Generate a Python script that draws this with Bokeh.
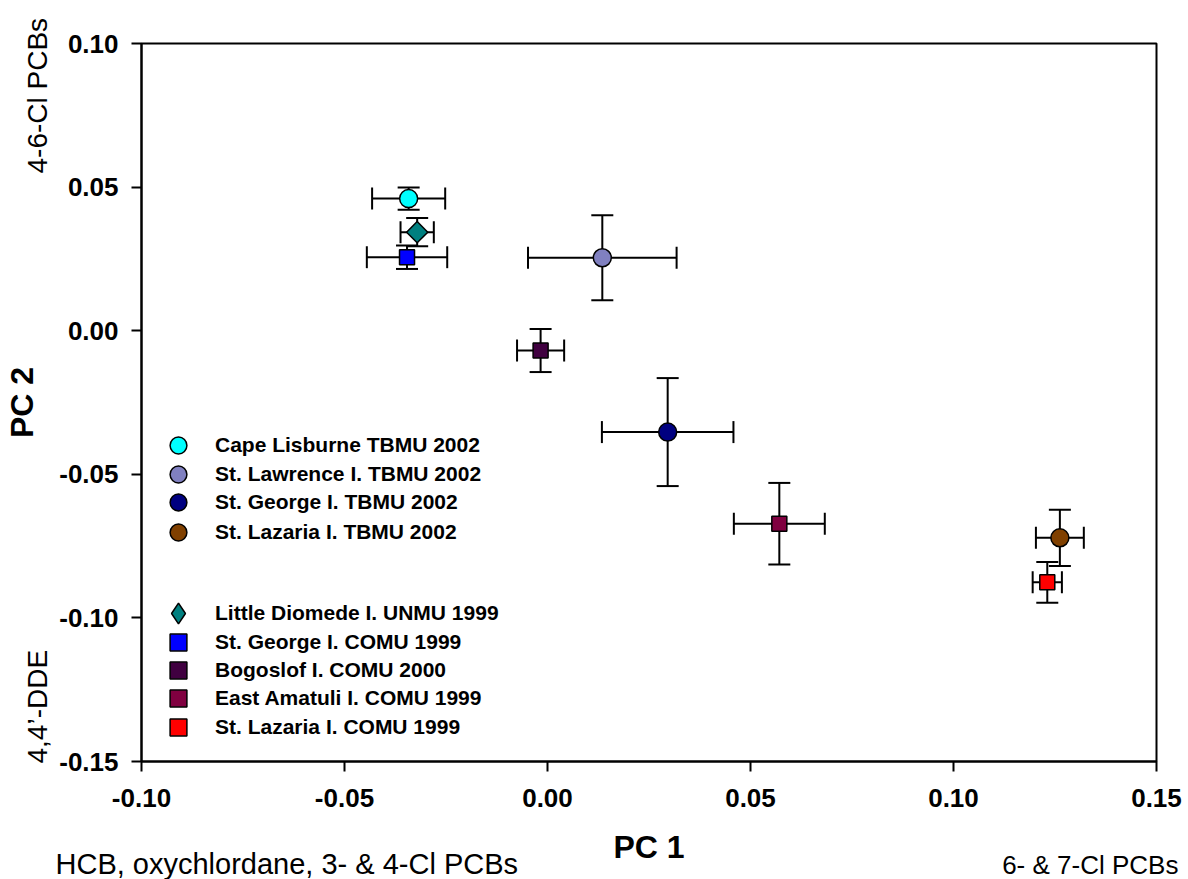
from math import pi
from bokeh.plotting import figure
from bokeh.models import (ColumnDataSource, Whisker, TeeHead, Label, Legend, LegendItem,
                          FixedTicker, PrintfTickFormatter, Range1d)
from bokeh.core.properties import value
from bokeh.embed import file_html
from bokeh.resources import INLINE

# ---- data ----
names = ["Cape Lisburne TBMU 2002", "St. Lawrence I. TBMU 2002", "St. George I. TBMU 2002",
         "St. Lazaria I. TBMU 2002", "Little Diomede I. UNMU 1999", "St. George I. COMU 1999",
         "Bogoslof I. COMU 2000", "East Amatuli I. COMU 1999", "St. Lazaria I. COMU 1999"]
pc1 = [-0.0342, 0.0135, 0.0296, 0.1262, -0.0321, -0.0346, -0.0017, 0.0571, 0.1231]
pc2 = [0.0460, 0.0254, -0.0353, -0.0721, 0.0343, 0.0256, -0.0069, -0.0672, -0.0876]
pc1_err = [0.0090, 0.0183, 0.0162, 0.0059, 0.0041, 0.0099, 0.0058, 0.0112, 0.0036]
pc2_err = [0.0039, 0.0148, 0.0188, 0.0098, 0.0049, 0.0041, 0.0075, 0.0142, 0.0071]
colors = ["#00FFFF", "#8080C0", "#000080", "#804000", "#008080", "#0000FF",
          "#400040", "#800040", "#FF0000"]
markers = ["circle", "circle", "circle", "circle", "diamond", "square", "square", "square", "square"]
x_ticks = [-0.10, -0.05, 0.00, 0.05, 0.10, 0.15]
y_ticks = [-0.15, -0.10, -0.05, 0.00, 0.05, 0.10]

FONT = "Liberation Sans"

p = figure(width=1188, height=879, x_range=Range1d(-0.10, 0.15), y_range=Range1d(-0.15, 0.10),
           output_backend="svg", toolbar_location=None,
           min_border_left=141, min_border_right=32, min_border_top=43, min_border_bottom=118)
p.background_fill_color = "white"
p.border_fill_color = "white"
p.outline_line_color = "black"
p.outline_line_width = 2
p.xgrid.visible = False
p.ygrid.visible = False

for ax, ticks in ((p.xaxis[0], x_ticks), (p.yaxis[0], y_ticks)):
    ax.ticker = FixedTicker(ticks=ticks)
    ax.formatter = PrintfTickFormatter(format="%.2f")
    ax.minor_tick_line_color = None
    ax.major_tick_in = 0
    ax.major_tick_out = 10
    ax.major_tick_line_width = 2
    ax.axis_line_width = 2
    ax.major_label_text_font = FONT
    ax.major_label_text_font_style = "bold"
    ax.major_label_text_font_size = "26px"
    ax.major_label_text_color = "black"
    ax.axis_label_text_font = FONT
    ax.axis_label_text_font_style = "bold"
    ax.axis_label_text_font_size = "32px"
    ax.axis_label_text_color = "black"

p.xaxis.major_label_standoff = 17
p.yaxis.major_label_standoff = 13
p.xaxis.axis_label = "PC 1"
p.yaxis.axis_label = "PC 2"
p.xaxis.axis_label_standoff = 19
p.yaxis.axis_label_standoff = 16

for i in range(len(names)):
    one = ColumnDataSource(data=dict(x=[pc1[i]], y=[pc2[i]],
                                     xl=[pc1[i] - pc1_err[i]], xu=[pc1[i] + pc1_err[i]],
                                     yl=[pc2[i] - pc2_err[i]], yu=[pc2[i] + pc2_err[i]]))
    p.add_layout(Whisker(source=one, base="y", lower="xl", upper="xu", dimension="width",
                         line_color="black", line_width=2,
                         lower_head=TeeHead(size=22, line_width=2, line_color="black"),
                         upper_head=TeeHead(size=22, line_width=2, line_color="black")))
    p.add_layout(Whisker(source=one, base="x", lower="yl", upper="yu", dimension="height",
                         line_color="black", line_width=2,
                         lower_head=TeeHead(size=22, line_width=2, line_color="black"),
                         upper_head=TeeHead(size=22, line_width=2, line_color="black")))

legend_renderers = []
for i in range(len(names)):
    one = ColumnDataSource(data=dict(x=[pc1[i]], y=[pc2[i]]))
    if markers[i] == "circle":
        r = p.scatter("x", "y", source=one, marker="circle", size=18, fill_color=colors[i],
                      line_color="black", line_width=1.5)
    elif markers[i] == "diamond":
        p.scatter("x", "y", source=one, marker="square", angle=pi / 4, size=15,
                  fill_color=colors[i], line_color="black", line_width=1.5)
        # legend-only diamond glyph (legend glyphs ignore marker angle)
        r = p.scatter("x", "y", source=one, marker="diamond", size=20, fill_color=colors[i],
                      line_color="black", line_width=1.5, visible=False)
    else:
        r = p.scatter("x", "y", source=one, marker="square", size=15, fill_color=colors[i],
                      line_color="black", line_width=1.5)
    legend_renderers.append(r)

# legend rows (screen y of each row centre, from top of picture)
legend_rows = [445, 474, 502, 532, 613, 642, 670, 698, 727]
for i, yc in enumerate(legend_rows):
    g = 52 if markers[i] == "diamond" else 42
    p.add_layout(Legend(items=[LegendItem(label=names[i], renderers=[legend_renderers[i]])],
                        location=(178 - g // 2 - 141, 761 - (yc + g // 2)),
                        border_line_color=None, background_fill_alpha=0,
                        inactive_fill_alpha=0, padding=0, margin=0, spacing=0,
                        glyph_height=g, glyph_width=g, label_standoff=37 - g // 2,
                        label_text_font=FONT, label_text_font_style="bold",
                        label_text_font_size="21px", label_text_color="black"))

# side notes
p.add_layout(Label(x=-86, y=-820, x_units="screen", y_units="screen",
                   text="HCB, oxychlordane, 3- & 4-Cl PCBs", text_align="left",
                   text_baseline="alphabetic", text_font=FONT, text_font_size="29px",
                   text_color="black"), "above")
p.add_layout(Label(x=-1119, y=588, x_units="screen", y_units="screen",
                   text="4-6-Cl PCBs", angle=pi / 2, text_align="left",
                   text_baseline="alphabetic", text_font=FONT, text_font_size="28px",
                   text_color="black"), "right")

p.text(x=[0.1554], y=[-0.1859], text=["6- & 7-Cl PCBs"], text_align="right",
       text_baseline="alphabetic", text_font=value(FONT), text_font_size="26px",
       text_color="black", level="overlay")
p.text(x=[-0.12562], y=[-0.15070], text=["4,4\u2019-DDE"], angle=pi / 2, text_align="left",
       text_baseline="alphabetic", text_font=value(FONT), text_font_size="28px",
       text_color="black", level="overlay")

open("out.html", "w").write(file_html(p, INLINE))
